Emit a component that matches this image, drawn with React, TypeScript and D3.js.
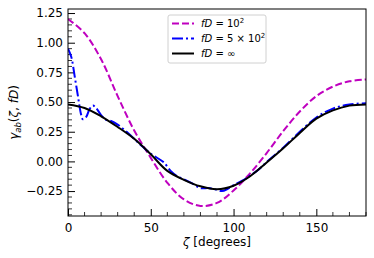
import { useEffect, useRef } from "react";
import * as d3 from "d3";

// angular separation grid (degrees) for the fD=1e2 and fD=inf curves
const zetaGrid = [0, 10, 20, 30, 40, 50, 60, 70, 80, 90, 100, 110, 120, 130, 140, 150, 160, 170, 180];
const gammaFD100 = [1.2, 1.08, 0.86, 0.55, 0.26, 0.03, -0.18, -0.32, -0.375, -0.35, -0.245, -0.1, 0.07, 0.255, 0.42, 0.55, 0.63, 0.675, 0.69];
const gammaInf = [0.48, 0.45, 0.38, 0.29, 0.19, 0.06, -0.08, -0.155, -0.21, -0.235, -0.205, -0.125, -0.01, 0.11, 0.24, 0.36, 0.43, 0.47, 0.48];

// fD = 5e2 has ripples near zero, sampled more finely
const zetaBlue = [0, 2, 4, 6, 8, 9, 11, 13, 15, 17, 20, 23, 26, 30, 35, 40, 45, 50, 55, 58, 62, 66, 70, 75, 80, 85, 90, 93, 96, 100, 105, 110, 115, 120, 130, 140, 150, 160, 170, 180];
const gammaFD500 = [0.95, 0.88, 0.72, 0.55, 0.39, 0.355, 0.375, 0.44, 0.47, 0.45, 0.39, 0.35, 0.34, 0.31, 0.255, 0.19, 0.125, 0.065, 0.02, -0.01, -0.08, -0.125, -0.15, -0.185, -0.225, -0.225, -0.24, -0.25, -0.235, -0.2, -0.165, -0.12, -0.07, -0.005, 0.115, 0.25, 0.37, 0.445, 0.48, 0.49];

const xMajor = [0, 50, 100, 150];
const yMajor = [-0.25, 0, 0.25, 0.5, 0.75, 1.0, 1.25];

const Chart = () => {
  const ref = useRef<SVGSVGElement | null>(null);

  useEffect(() => {
    const svg = d3.select(ref.current);
    svg.selectAll("*").remove();

    const left = 68, right = 366, top = 9, bottom = 216;
    const font = "DejaVu Sans, sans-serif";

    const x = d3.scaleLinear().domain([0, 180]).range([left, right]);
    const y = d3.scaleLinear().domain([-0.46, 1.284]).range([bottom, top]);

    svg.append("rect").attr("width", 374).attr("height", 258).attr("fill", "#fff");

    svg.append("defs").append("clipPath").attr("id", "plot-clip")
      .append("rect").attr("x", left).attr("y", top)
      .attr("width", right - left).attr("height", bottom - top);

    // minor ticks (inward)
    const xMinor = d3.range(10, 181, 10).filter((v) => !xMajor.includes(v));
    const yMinor = d3.range(-45, 126, 5).map((v) => v / 100).filter((v) => !yMajor.some((m) => Math.abs(m - v) < 1e-6));

    const ticks = svg.append("g").attr("stroke", "#000").attr("stroke-width", 0.8);
    xMinor.forEach((v) => {
      ticks.append("line").attr("x1", x(v)).attr("x2", x(v)).attr("y1", bottom).attr("y2", bottom - 4);
    });
    yMinor.forEach((v) => {
      ticks.append("line").attr("x1", left).attr("x2", left + 4).attr("y1", y(v)).attr("y2", y(v));
    });

    // major ticks via d3 axes
    const xAxis = d3.axisBottom(x).tickValues(xMajor).tickSizeInner(-7).tickSizeOuter(0).tickPadding(5).tickFormat(d3.format("d"));
    const yAxis = d3.axisLeft(y).tickValues(yMajor).tickSizeInner(-7).tickSizeOuter(0).tickPadding(5).tickFormat(d3.format(".2f"));

    const gx = svg.append("g").attr("transform", `translate(0,${bottom})`).call(xAxis);
    const gy = svg.append("g").attr("transform", `translate(${left},0)`).call(yAxis);
    [gx, gy].forEach((g) => {
      g.select(".domain").remove();
      g.selectAll(".tick line").attr("stroke", "#000").attr("stroke-width", 1);
      g.selectAll(".tick text").attr("fill", "#000").attr("font-family", font).attr("font-size", 12);
    });
    gx.selectAll(".tick text").attr("dy", "0.95em");

    // curves
    const plot = svg.append("g").attr("clip-path", "url(#plot-clip)");
    const line = d3.line<[number, number]>()
      .x((d) => x(d[0]))
      .y((d) => y(d[1]))
      .curve(d3.curveCatmullRom);

    const series = [
      { xs: zetaGrid, ys: gammaFD100, color: "#bf00bf", dash: "7,3", width: 2 },
      { xs: zetaBlue, ys: gammaFD500, color: "#0000ff", dash: "11,3,2,3", width: 2 },
      { xs: zetaGrid, ys: gammaInf, color: "#000", dash: null, width: 2 },
    ];
    series.forEach((s) => {
      const pts = s.xs.map((v, i) => [v, s.ys[i]] as [number, number]);
      plot.append("path")
        .attr("d", line(pts))
        .attr("fill", "none")
        .attr("stroke", s.color)
        .attr("stroke-width", s.width)
        .attr("stroke-dasharray", s.dash);
    });

    // frame
    svg.append("rect").attr("x", left).attr("y", top)
      .attr("width", right - left).attr("height", bottom - top)
      .attr("fill", "none").attr("stroke", "#000").attr("stroke-width", 1);

    // legend
    const lg = svg.append("g");
    lg.append("rect").attr("x", 168).attr("y", 15).attr("width", 98).attr("height", 48)
      .attr("rx", 2).attr("fill", "#fff").attr("fill-opacity", 0.8)
      .attr("stroke", "#d0d0d0").attr("stroke-width", 1);

    const labels = [
      { pre: "5 × 10", sup: "2" },
      { pre: "10", sup: "2" },
      { pre: "∞", sup: null },
    ];
    const order = [0, 1, 2];
    order.forEach((k, i) => {
      const s = series[k];
      const yy = 23.5 + i * 15;
      lg.append("line").attr("x1", 172).attr("x2", 194).attr("y1", yy).attr("y2", yy)
        .attr("stroke", s.color).attr("stroke-width", s.width).attr("stroke-dasharray", s.dash);
      const lab = k === 0 ? labels[1] : k === 1 ? labels[0] : labels[2];
      const t = lg.append("text").attr("x", 201).attr("y", yy + 3.6)
        .attr("font-family", font).attr("font-size", 10).attr("fill", "#000");
      t.append("tspan").attr("font-style", "italic").text("fD");
      t.append("tspan").text(" = " + lab.pre);
      if (lab.sup) {
        t.append("tspan").attr("font-size", 7).attr("dy", -4).text(lab.sup);
      }
    });

    // axis labels
    const xl = svg.append("text").attr("x", (left + right) / 2).attr("y", 246)
      .attr("text-anchor", "middle").attr("font-family", font).attr("font-size", 12).attr("fill", "#000");
    xl.append("tspan").attr("font-style", "italic").text("ζ");
    xl.append("tspan").text(" [degrees]");

    const yl = svg.append("text")
      .attr("transform", `translate(18,${(top + bottom) / 2}) rotate(-90)`)
      .attr("text-anchor", "middle").attr("font-family", font).attr("font-size", 12).attr("fill", "#000");
    yl.append("tspan").attr("font-style", "italic").text("γ");
    yl.append("tspan").attr("font-style", "italic").attr("font-size", 8.5).attr("dy", 3).text("ab");
    yl.append("tspan").attr("dy", -3).text("(");
    yl.append("tspan").attr("font-style", "italic").text("ζ");
    yl.append("tspan").text(", ");
    yl.append("tspan").attr("font-style", "italic").text("fD");
    yl.append("tspan").text(")");
  }, []);

  return (
    <svg
      ref={ref}
      width={374}
      height={258}
      style={{ position: "absolute", left: 0, top: 0 }}
    />
  );
};

export default function App() {
  return <Chart />;
}
